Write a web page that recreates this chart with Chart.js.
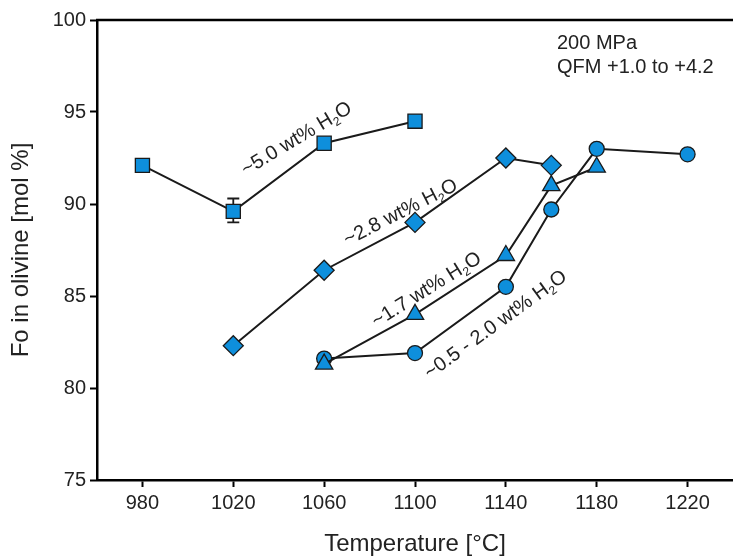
<!DOCTYPE html>
<html><head><meta charset="utf-8">
<script src="https://cdn.jsdelivr.net/npm/chart.js@4.4.1/dist/chart.umd.min.js"></script>
<style>html,body{margin:0;padding:0;background:#fff;}#wrap{width:733px;height:556px;}</style>
</head><body><div id="wrap"><canvas id="c" width="733" height="556"></canvas></div>
<script>
// ---- data ----
const xTicks = [980, 1020, 1060, 1100, 1140, 1180, 1220];
const yTicks = [75, 80, 85, 90, 95, 100];
const temp50 = [980, 1020, 1060, 1100];
const fo50 = [92.1, 89.6, 93.3, 94.5];
const errLow50 = [null, 89.0, null, null];
const errHigh50 = [null, 90.3, null, null];
const temp28 = [1020, 1060, 1100, 1140, 1160];
const fo28 = [82.3, 86.4, 89.0, 92.5, 92.1];
const temp17 = [1060, 1100, 1140, 1160, 1180];
const fo17 = [81.3, 84.0, 87.2, 91.0, 92.0];
const temp05 = [1060, 1100, 1140, 1160, 1180, 1220];
const fo05 = [81.6, 81.9, 85.5, 89.7, 93.0, 92.7];
const seriesLabels = [
  ['~5.0 wt% H', '2', 'O'],
  ['~2.8 wt% H', '2', 'O'],
  ['~1.7 wt% H', '2', 'O'],
  ['~0.5 - 2.0 wt% H', '2', 'O']
];
const noteLines = ['200 MPa', 'QFM +1.0 to +4.2'];
const xTitle = 'Temperature [°C]';
const yTitle = 'Fo in olivine [mol %]';

// ---- placement / style (not data) ----
const labelPlace = [
  {t: 1047.6, fo: 93.6, angle: 31},
  {t: 1093.4, fo: 89.6, angle: 27},
  {t: 1104.8, fo: 85.4, angle: 32},
  {t: 1135.2, fo: 83.5, angle: 36}
];
const notePlace = {t: 1162.5, fo: 98.42};
const FONT = '"Liberation Sans", Arial, sans-serif';
const FILL = '#0e8fdc';
const EDGE = '#1a1a1a';
const TXT = '#222';

const pts = (xs, ys) => xs.map((x, i) => ({x: x, y: ys[i]}));
function ds(xs, ys, style, r) {
  return {
    data: pts(xs, ys), showLine: true, borderColor: EDGE, borderWidth: 2,
    pointStyle: style, pointRadius: r, pointBackgroundColor: FILL,
    pointBorderColor: EDGE, pointBorderWidth: 1.3, tension: 0, fill: false
  };
}

const extras = {
  id: 'extras',
  beforeDatasetsDraw(chart) {
    const ctx = chart.ctx, xs = chart.scales.x, ys = chart.scales.y;
    ctx.save();
    ctx.strokeStyle = EDGE; ctx.lineWidth = 1.8;
    temp50.forEach((t, i) => {
      if (errLow50[i] == null) return;
      const px = xs.getPixelForValue(t);
      const y1 = ys.getPixelForValue(errLow50[i]), y2 = ys.getPixelForValue(errHigh50[i]);
      ctx.beginPath();
      ctx.moveTo(px, y1); ctx.lineTo(px, y2);
      ctx.moveTo(px - 6, y1); ctx.lineTo(px + 6, y1);
      ctx.moveTo(px - 6, y2); ctx.lineTo(px + 6, y2);
      ctx.stroke();
    });
    ctx.restore();
  },
  afterDatasetsDraw(chart) {
    const ctx = chart.ctx, xs = chart.scales.x, ys = chart.scales.y, ca = chart.chartArea;
    ctx.save();
    ctx.strokeStyle = '#000'; ctx.lineWidth = 2.5;
    ctx.beginPath(); ctx.moveTo(ca.left - 1, ca.top); ctx.lineTo(ca.right, ca.top); ctx.stroke();
    ctx.fillStyle = TXT; ctx.textAlign = 'left'; ctx.textBaseline = 'alphabetic';
    seriesLabels.forEach((parts, i) => {
      const p = labelPlace[i];
      const cx = xs.getPixelForValue(p.t), cy = ys.getPixelForValue(p.fo);
      ctx.save(); ctx.translate(cx, cy); ctx.rotate(-p.angle * Math.PI / 180);
      const big = '20px ' + FONT, small = '12px ' + FONT;
      ctx.font = big; const w1 = ctx.measureText(parts[0]).width, w3 = ctx.measureText(parts[2]).width;
      ctx.font = small; const w2 = ctx.measureText(parts[1]).width;
      let x = -(w1 + w2 + w3) / 2; const b = 7;
      ctx.font = big; ctx.fillText(parts[0], x, b); x += w1;
      ctx.font = small; ctx.fillText(parts[1], x, b + 4); x += w2;
      ctx.font = big; ctx.fillText(parts[2], x, b);
      ctx.restore();
    });
    ctx.font = '20px ' + FONT;
    const nx = xs.getPixelForValue(notePlace.t), ny = ys.getPixelForValue(notePlace.fo);
    noteLines.forEach((s, i) => ctx.fillText(s, nx, ny + i * 24));
    ctx.restore();
  }
};

new Chart(document.getElementById('c'), {
  type: 'scatter',
  data: {datasets: [
    ds(temp50, fo50, 'rect', 10),
    ds(temp28, fo28, 'rectRot', 10),
    ds(temp17, fo17, 'triangle', 10),
    ds(temp05, fo05, 'circle', 7.5)
  ]},
  options: {
    responsive: false, animation: false, devicePixelRatio: 1,
    layout: {autoPadding: false, padding: {top: 20, right: 0, left: 0, bottom: 0}},
    plugins: {legend: {display: false}, tooltip: {enabled: false}},
    scales: {
      x: {
        type: 'linear', min: 960, max: 1240,
        afterBuildTicks: s => { s.ticks = xTicks.map(v => ({value: v})); },
        afterFit: s => { s.height = 76; s.paddingRight = 0; s.paddingLeft = 0; },
        border: {color: '#000', width: 2.5},
        grid: {drawOnChartArea: false, drawTicks: true, tickLength: 7, tickWidth: 2, tickColor: '#000'},
        ticks: {font: {family: FONT, size: 20}, color: TXT, padding: 4, maxRotation: 0, autoSkip: false,
                callback: v => String(v)},
        title: {display: true, text: xTitle, font: {family: FONT, size: 24, lineHeight: 1}, color: TXT, padding: 0}
      },
      y: {
        type: 'linear', min: 75, max: 100,
        afterBuildTicks: s => { s.ticks = yTicks.map(v => ({value: v})); },
        afterFit: s => { s.width = 97; s.paddingTop = 0; s.paddingBottom = 0; },
        border: {color: '#000', width: 2.5},
        grid: {drawOnChartArea: false, drawTicks: true, tickLength: 7, tickWidth: 2, tickColor: '#000'},
        ticks: {font: {family: FONT, size: 20}, color: TXT, padding: 4, autoSkip: false,
                callback: v => String(v)},
        title: {display: true, text: yTitle, font: {family: FONT, size: 24, lineHeight: 1}, color: TXT, padding: {top: 9, bottom: 0}}
      }
    }
  },
  plugins: [extras]
});
</script></body></html>
